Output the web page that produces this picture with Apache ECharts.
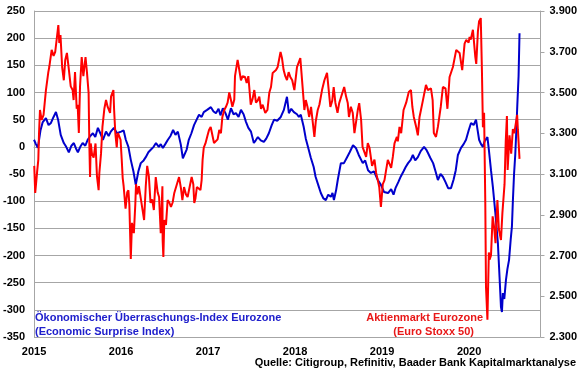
<!DOCTYPE html>
<html><head><meta charset="utf-8">
<script src="https://cdn.jsdelivr.net/npm/echarts@6/dist/echarts.min.js"></script>
<style>html,body{margin:0;padding:0;background:#fff}#c{width:580px;height:375px}</style>
</head><body><div id="c"></div>
<script>
const xTicks = [2015, 2016, 2017, 2018, 2019, 2020];
const leftTicks = [-350, -300, -250, -200, -150, -100, -50, 0, 50, 100, 150, 200, 250];
const rightTicks = [2300, 2500, 2700, 2900, 3100, 3300, 3500, 3700, 3900];

const blueDates = ['2015-01-01','2015-01-09','2015-01-17','2015-01-28','2015-02-06','2015-02-20','2015-03-03','2015-03-13','2015-03-24','2015-04-03','2015-04-12','2015-04-23','2015-05-06','2015-05-16','2015-05-27','2015-06-07','2015-06-17','2015-06-26','2015-07-04','2015-07-14','2015-07-24','2015-08-04','2015-08-14','2015-08-25','2015-09-05','2015-09-15','2015-09-26','2015-10-06','2015-10-17','2015-10-30','2015-11-10','2015-11-19','2015-12-02','2015-12-15',
'2016-01-01','2016-01-12','2016-01-21','2016-02-01','2016-02-11','2016-02-22','2016-03-03','2016-03-14','2016-03-24','2016-04-05','2016-04-14','2016-04-25','2016-05-06','2016-05-17','2016-05-27','2016-06-08','2016-06-16','2016-06-25','2016-07-05','2016-07-16','2016-07-27','2016-08-07','2016-08-17','2016-08-27','2016-09-08','2016-09-17','2016-09-25','2016-10-03','2016-10-12','2016-10-23','2016-11-03','2016-11-14','2016-11-24','2016-12-05','2016-12-14','2016-12-28',
'2017-01-13','2017-01-24','2017-02-03','2017-02-14','2017-02-22','2017-03-04','2017-03-15','2017-03-25','2017-04-07','2017-04-18','2017-04-28','2017-05-09','2017-05-19','2017-05-30','2017-06-09','2017-06-19','2017-06-30','2017-07-12','2017-07-20','2017-07-29','2017-08-10','2017-08-23','2017-09-02','2017-09-13','2017-09-25','2017-10-05','2017-10-18','2017-11-02','2017-11-15','2017-11-28','2017-12-06','2017-12-16','2017-12-27',
'2018-01-09','2018-01-17','2018-01-25','2018-02-06','2018-02-15','2018-02-24','2018-03-08','2018-03-20','2018-03-28','2018-04-08','2018-04-19','2018-04-30','2018-05-10','2018-05-20','2018-05-31','2018-06-07','2018-06-13','2018-06-22','2018-06-29','2018-07-12','2018-07-25','2018-08-06','2018-08-18','2018-09-01','2018-09-13','2018-09-25','2018-10-12','2018-10-22','2018-11-03','2018-11-15','2018-11-28','2018-12-14','2018-12-27',
'2019-01-09','2019-01-26','2019-02-08','2019-02-18','2019-02-27','2019-03-10','2019-03-20','2019-04-01','2019-04-10','2019-04-20','2019-05-01','2019-05-10','2019-05-20','2019-05-31','2019-06-12','2019-06-26','2019-07-05','2019-07-12','2019-07-22','2019-08-03','2019-08-13','2019-08-23','2019-09-03','2019-09-13','2019-09-24','2019-10-05','2019-10-17','2019-10-28','2019-11-06','2019-11-15','2019-11-28','2019-12-09','2019-12-19','2019-12-30',
'2020-01-09','2020-01-20','2020-01-30','2020-02-06','2020-02-12','2020-02-20','2020-02-28','2020-03-06','2020-03-12','2020-03-18','2020-03-24','2020-04-02','2020-04-10','2020-04-20','2020-05-01','2020-05-08','2020-05-14','2020-05-18','2020-05-22','2020-05-28','2020-06-04','2020-06-10','2020-06-17','2020-06-24','2020-06-29','2020-07-03','2020-07-08','2020-07-13','2020-07-17','2020-07-22','2020-07-27','2020-07-31'];
const blueValues = [13,5,-2,30,45,53,40,44,55,64,50,22,7,0,-10,2,7,-3,-10,0,7,2,13,20,25,18,35,25,13,28,20,28,35,25,
28,30,13,0,-24,-45,-70,-45,-30,-25,-19,-10,-5,0,7,0,5,-2,5,13,20,31,22,28,5,-21,-24,-5,13,25,40,50,59,55,64,68,
73,65,62,70,58,71,62,50,71,60,62,55,68,60,46,35,28,7,12,18,12,9,15,25,40,50,48,55,68,92,62,70,64,
60,55,59,37,15,0,-20,-37,-55,-70,-85,-95,-98,-88,-92,-85,-98,-80,-61,-30,-30,-20,-10,3,-2,-15,-30,-25,-43,-48,-45,-61,-70,
-83,-85,-78,-88,-75,-65,-55,-45,-37,-30,-24,-15,-25,-19,-8,0,-5,-11,-20,-30,-45,-61,-50,-55,-65,-76,-76,-60,-43,-15,-2,5,13,30,
44,40,50,30,13,5,0,10,13,18,-5,-43,-74,-120,-177,-240,-295,-304,-269,-280,-245,-225,-208,-170,-147,-100,-50,-15,25,80,130,209];

const redDates = ['2015-01-02','2015-01-06','2015-01-09','2015-01-14','2015-01-19','2015-01-22','2015-01-26','2015-02-02','2015-02-10','2015-02-20','2015-03-02','2015-03-06','2015-03-16','2015-03-24','2015-03-31','2015-04-10','2015-04-13','2015-04-17','2015-04-22','2015-04-29','2015-05-06','2015-05-12','2015-05-19','2015-05-26','2015-06-04','2015-06-12','2015-06-16','2015-06-22','2015-06-29','2015-07-03','2015-07-08','2015-07-13','2015-07-20','2015-07-27','2015-08-05','2015-08-11','2015-08-18','2015-08-21','2015-08-24','2015-08-27','2015-09-01','2015-09-08','2015-09-16','2015-09-22','2015-09-29','2015-10-02','2015-10-09','2015-10-15','2015-10-23','2015-10-30','2015-11-06','2015-11-16','2015-11-20','2015-11-30','2015-12-03','2015-12-08','2015-12-14','2015-12-18','2015-12-23','2015-12-30',
'2016-01-04','2016-01-08','2016-01-12','2016-01-20','2016-01-27','2016-02-01','2016-02-05','2016-02-11','2016-02-16','2016-02-24','2016-03-01','2016-03-04','2016-03-10','2016-03-16','2016-03-24','2016-04-01','2016-04-07','2016-04-14','2016-04-20','2016-04-27','2016-05-04','2016-05-11','2016-05-18','2016-05-26','2016-06-03','2016-06-09','2016-06-16','2016-06-23','2016-06-24','2016-06-27','2016-07-01','2016-07-08','2016-07-15','2016-07-22','2016-07-29','2016-08-05','2016-08-12','2016-08-19','2016-09-01','2016-09-09','2016-09-15','2016-09-22','2016-09-30','2016-10-07','2016-10-14','2016-10-24','2016-10-31','2016-11-04','2016-11-09','2016-11-15','2016-11-22','2016-11-30','2016-12-05','2016-12-09','2016-12-14','2016-12-21','2016-12-30',
'2017-01-05','2017-01-12','2017-01-26','2017-02-03','2017-02-10','2017-02-17','2017-02-24','2017-03-02','2017-03-10','2017-03-17','2017-03-24','2017-03-31','2017-04-07','2017-04-13','2017-04-21','2017-04-24','2017-05-05','2017-05-10','2017-05-19','2017-05-26','2017-06-05','2017-06-12','2017-06-19','2017-06-29','2017-07-07','2017-07-14','2017-07-21','2017-07-28','2017-08-04','2017-08-11','2017-08-18','2017-08-29','2017-09-07','2017-09-15','2017-09-22','2017-09-29','2017-10-06','2017-10-13','2017-10-20','2017-11-01','2017-11-07','2017-11-14','2017-11-21','2017-11-28','2017-12-05','2017-12-12','2017-12-20','2017-12-29',
'2018-01-09','2018-01-23','2018-01-26','2018-02-02','2018-02-09','2018-02-15','2018-02-22','2018-03-01','2018-03-09','2018-03-23','2018-03-29','2018-04-06','2018-04-13','2018-04-24','2018-05-04','2018-05-15','2018-05-22','2018-05-29','2018-06-06','2018-06-12','2018-06-19','2018-06-28','2018-07-05','2018-07-13','2018-07-26','2018-08-03','2018-08-10','2018-08-15','2018-08-23','2018-08-31','2018-09-07','2018-09-21','2018-09-27','2018-10-05','2018-10-11','2018-10-19','2018-10-26','2018-11-02','2018-11-09','2018-11-20','2018-11-30','2018-12-07','2018-12-14','2018-12-20','2018-12-27',
'2019-01-04','2019-01-11','2019-01-18','2019-01-25','2019-02-01','2019-02-08','2019-02-15','2019-02-22','2019-03-04','2019-03-08','2019-03-15','2019-03-22','2019-04-01','2019-04-12','2019-04-23','2019-05-02','2019-05-08','2019-05-14','2019-05-24','2019-05-31','2019-06-07','2019-06-14','2019-06-21','2019-07-04','2019-07-12','2019-07-25','2019-08-01','2019-08-06','2019-08-15','2019-08-23','2019-09-04','2019-09-13','2019-09-24','2019-10-02','2019-10-11','2019-10-25','2019-11-08','2019-11-15','2019-11-22','2019-12-03','2019-12-13','2019-12-20','2019-12-30',
'2020-01-03','2020-01-08','2020-01-17','2020-01-27','2020-01-31','2020-02-07','2020-02-12','2020-02-19','2020-02-24','2020-02-28','2020-03-04','2020-03-09','2020-03-12','2020-03-18','2020-03-24','2020-03-27','2020-04-02','2020-04-09','2020-04-15','2020-04-21','2020-04-29','2020-05-05','2020-05-14','2020-05-20','2020-05-29','2020-06-03','2020-06-08','2020-06-11','2020-06-19','2020-06-26','2020-07-03','2020-07-09','2020-07-21','2020-07-24','2020-07-31'];
const redValues = [3140,3007,3045,3110,3169,3300,3414,3365,3390,3512,3600,3625,3709,3680,3700,3800,3831,3743,3782,3625,3560,3660,3694,3625,3530,3512,3463,3600,3420,3440,3301,3530,3674,3580,3674,3600,3498,3250,3085,3250,3200,3180,3250,3090,3021,3105,3200,3331,3420,3463,3429,3400,3480,3512,3414,3301,3230,3301,3290,3268,
3169,3080,3040,2930,3010,3020,2950,2683,2860,2810,2950,3050,3000,3040,2980,2920,2874,3040,3140,3090,2958,2975,2923,3085,3010,2987,2810,3040,2776,2693,2874,2850,2972,2960,2938,2960,3007,3000,3085,3030,2972,3036,3000,2987,2990,3085,3050,2958,2980,3036,3030,3021,3070,3169,3230,3250,3290,
3316,3331,3252,3260,3270,3316,3300,3380,3414,3430,3450,3500,3463,3430,3465,3580,3660,3625,3560,3580,3576,3547,3580,3440,3470,3512,3450,3460,3480,3420,3440,3400,3414,3500,3527,3596,3600,3610,3625,3699,3670,3610,3580,3561,3600,3576,3560,3512,
3625,3669,3674,3520,3414,3463,3430,3380,3429,3282,3360,3414,3440,3512,3560,3596,3590,3429,3460,3527,3450,3400,3448,3478,3527,3480,3448,3380,3430,3399,3301,3414,3448,3365,3233,3230,3184,3252,3230,3140,3170,3105,3070,3036,2938,
3050,3070,3120,3169,3160,3130,3184,3250,3282,3260,3331,3300,3414,3450,3503,3512,3429,3380,3331,3290,3380,3380,3460,3537,3512,3520,3463,3301,3282,3331,3429,3527,3520,3420,3576,3625,3709,3700,3694,3610,3740,3758,3745,
3773,3760,3808,3675,3640,3800,3850,3865,3600,3329,3400,2960,2546,2385,2715,2680,2700,2892,2840,2760,2972,2830,2776,2909,3050,3260,3384,3120,3290,3200,3320,3300,3390,3320,3174];

function toYear(d) {
  const [y, m, dd] = d.split('-').map(Number);
  const start = Date.UTC(y, 0, 1), end = Date.UTC(y + 1, 0, 1);
  return y + (Date.UTC(y, m - 1, dd) - start) / (end - start);
}
const blueData = blueDates.map((d, i) => [toYear(d), blueValues[i]]);
const redData = redDates.map((d, i) => [toYear(d), redValues[i]]);

const FONT = "'Liberation Sans', Arial, sans-serif";
const gray = '#a6a6a6';
const chart = echarts.init(document.getElementById('c'), null, {renderer: 'canvas'});
chart.setOption({
  animation: false,
  backgroundColor: '#fff',
  grid: {left: 33, right: 38, top: 11, bottom: 38, containLabel: false},
  xAxis: {
    type: 'value', min: xTicks[0], max: 2020.82, interval: 1,
    axisLine: {show: true, lineStyle: {color: gray, width: 1}},
    axisTick: {show: false},
    splitLine: {show: false},
    axisLabel: {showMaxLabel: false, margin: 9, color: '#000', fontFamily: FONT, fontWeight: 'bold', fontSize: 11,
      formatter: v => xTicks.includes(Math.round(v)) ? String(Math.round(v)) : ''}
  },
  yAxis: [{
    type: 'value', min: leftTicks[0], max: leftTicks[leftTicks.length - 1], interval: 50, position: 'left',
    axisLine: {show: true, lineStyle: {color: gray, width: 1}},
    axisTick: {show: false},
    splitLine: {show: true, lineStyle: {color: gray, width: 1}},
    axisLabel: {margin: 9, color: '#000', fontFamily: FONT, fontWeight: 'bold', fontSize: 11}
  }, {
    type: 'value', min: rightTicks[0], max: rightTicks[rightTicks.length - 1], interval: 200, position: 'right',
    axisLine: {show: true, lineStyle: {color: gray, width: 1}},
    axisTick: {show: true, inside: false, length: 4, lineStyle: {color: gray}},
    splitLine: {show: false},
    axisLabel: {margin: 9, color: '#000', fontFamily: FONT, fontWeight: 'bold', fontSize: 11,
      formatter: v => (v / 1000).toFixed(3)}
  }],
  series: [{
    name: 'Economic Surprise Index', type: 'line', yAxisIndex: 0, data: blueData,
    showSymbol: false, lineStyle: {color: '#0000cc', width: 2}, z: 2
  }, {
    name: 'Euro Stoxx 50', type: 'line', yAxisIndex: 1, data: redData,
    showSymbol: false, lineStyle: {color: '#ff0000', width: 2}, z: 3
  }],
  graphic: [
    {type: 'text', style: {x: 35, y: 318, text: 'Ökonomischer Überraschungs-Index Eurozone', font: 'bold 11px ' + FONT, fill: '#2020cc', verticalAlign: 'middle'}},
    {type: 'text', style: {x: 35, y: 332, text: '(Economic Surprise Index)', font: 'bold 11px ' + FONT, fill: '#2020cc', verticalAlign: 'middle'}},
    {type: 'text', style: {x: 483, y: 318, text: 'Aktienmarkt Eurozone', font: 'bold 11px ' + FONT, fill: '#e81818', align: 'right', verticalAlign: 'middle'}},
    {type: 'text', style: {x: 474, y: 332, text: '(Euro Stoxx 50)', font: 'bold 11px ' + FONT, fill: '#e81818', align: 'right', verticalAlign: 'middle'}},
    {type: 'text', style: {x: 576, y: 363, text: 'Quelle: Citigroup, Refinitiv, Baader Bank Kapitalmarktanalyse', font: 'bold 11px ' + FONT, fill: '#000', align: 'right', verticalAlign: 'middle'}}
  ]
});
</script></body></html>
